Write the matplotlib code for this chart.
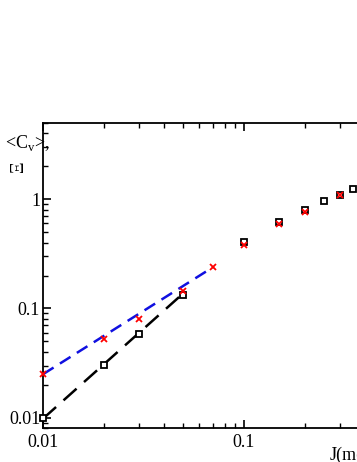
import matplotlib
matplotlib.use("Agg")
import matplotlib.pyplot as plt
from matplotlib.ticker import LogLocator, NullFormatter, FixedLocator, FixedFormatter

# data
J_sq = [0.01, 0.02, 0.03, 0.05, 0.1, 0.15, 0.2, 0.25, 0.3, 0.35]
Cv_sq = [0.0100, 0.0303, 0.0582, 0.134, 0.405, 0.611, 0.787, 0.96, 1.10, 1.25]
J_x = [0.01, 0.02, 0.03, 0.05, 0.07, 0.1, 0.15, 0.2, 0.3]
Xi_x = [0.0250, 0.052, 0.0794, 0.144, 0.238, 0.377, 0.586, 0.77, 1.10]
fit_blue_J = [0.01, 0.07]
fit_blue_y = [0.025, 0.238]
fit_black_J = [0.01, 0.05]
fit_black_y = [0.0098, 0.138]

xticks = [0.01, 0.1]
xticklabels = ["0.01", "0.1"]
yticks = [0.01, 0.1, 1]
yticklabels = ["0.01", "0.1", "1"]

plt.rcParams['font.family'] = ['Liberation Serif', 'DejaVu Serif']

W, H = 357, 462
fig = plt.figure(figsize=(W / 100, H / 100), dpi=100)
left = 43 / W
bottom = 1 - 428.3 / H
height = (428.3 - 122.7) / H
width = 603 / W
ax = fig.add_axes([left, bottom, width, height])
ax.set_xscale('log')
ax.set_yscale('log')
ax.set_xlim(0.01, 10)
ax.set_ylim(0.008, 5)

ax.plot(fit_black_J, fit_black_y, color='black', lw=1.8, dashes=(7, 4), zorder=2)
ax.plot(fit_blue_J, fit_blue_y, color='#1010e0', lw=1.8, dashes=(5, 3), zorder=2)
ax.plot(J_sq, Cv_sq, ls='none', marker='s', ms=5, mfc='white', mec='black', mew=1.3, zorder=3, clip_on=False)
ax.plot(J_x, Xi_x, ls='none', marker='x', ms=5, color='red', mew=1.3, zorder=4, clip_on=False)

for s in ax.spines.values():
    s.set_linewidth(1.3)

ax.xaxis.set_major_locator(FixedLocator(xticks))
ax.xaxis.set_major_formatter(FixedFormatter(xticklabels))
ax.xaxis.set_minor_locator(LogLocator(base=10, subs=range(2, 10)))
ax.xaxis.set_minor_formatter(NullFormatter())
ax.yaxis.set_major_locator(FixedLocator(yticks))
ax.yaxis.set_major_formatter(FixedFormatter(yticklabels))
ax.yaxis.set_minor_locator(LogLocator(base=10, subs=range(2, 10)))
ax.yaxis.set_minor_formatter(NullFormatter())

ax.tick_params(which='both', direction='in', top=True, right=True, labelsize=13)
ax.tick_params(which='major', length=6, width=1.2)
ax.tick_params(which='minor', length=3.5, width=1.0)
ax.tick_params(axis='x', pad=4)
ax.tick_params(axis='y', pad=2)

fig.text(330 / W, 1 - 455 / H, "J(meV)", ha='left', va='center', fontsize=13)
fig.text(5 / W, 1 - 143 / H, r"<C$_\mathregular{v}$>,", ha='left', va='center', fontsize=13)
fig.text(19 / W, 1 - 166 / H, "Ξ", ha='center', va='center', fontsize=13, rotation=90)

fig.savefig("out.png", dpi=100)
